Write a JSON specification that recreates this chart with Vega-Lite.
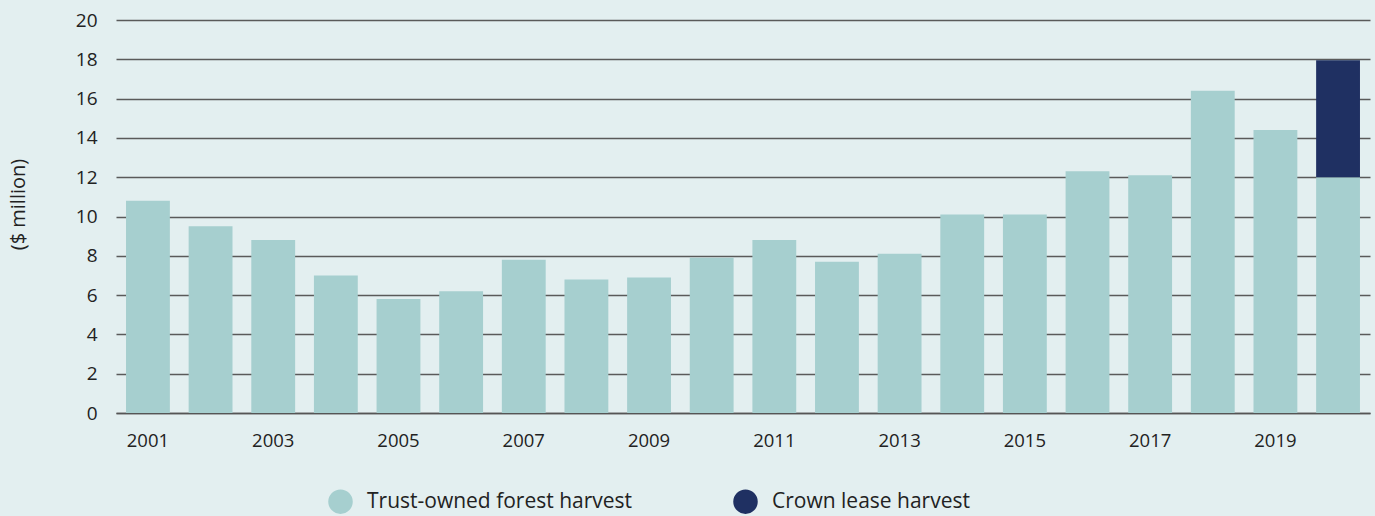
{
  "$schema": "https://vega.github.io/schema/vega-lite/v6.json",
  "width": 1254,
  "height": 393,
  "autosize": {"type": "none"},
  "padding": {"left": 116, "top": 20, "right": 5, "bottom": 103},
  "background": "#e3eff0",
  "config": {
    "view": {"stroke": null},
    "font": "Open Sans",
    "axis": {"labelColor": "#222222", "titleColor": "#222222", "labelFont": "Open Sans", "titleFont": "Open Sans"},
    "legend": {"labelFont": "Open Sans", "labelColor": "#222222"}
  },
  "data": {
    "values": [
      {"year": 2001, "series": "Trust-owned forest harvest", "value": 10.8},
      {"year": 2002, "series": "Trust-owned forest harvest", "value": 9.5},
      {"year": 2003, "series": "Trust-owned forest harvest", "value": 8.8},
      {"year": 2004, "series": "Trust-owned forest harvest", "value": 7.0},
      {"year": 2005, "series": "Trust-owned forest harvest", "value": 5.8},
      {"year": 2006, "series": "Trust-owned forest harvest", "value": 6.2},
      {"year": 2007, "series": "Trust-owned forest harvest", "value": 7.8},
      {"year": 2008, "series": "Trust-owned forest harvest", "value": 6.8},
      {"year": 2009, "series": "Trust-owned forest harvest", "value": 6.9},
      {"year": 2010, "series": "Trust-owned forest harvest", "value": 7.9},
      {"year": 2011, "series": "Trust-owned forest harvest", "value": 8.8},
      {"year": 2012, "series": "Trust-owned forest harvest", "value": 7.7},
      {"year": 2013, "series": "Trust-owned forest harvest", "value": 8.1},
      {"year": 2014, "series": "Trust-owned forest harvest", "value": 10.1},
      {"year": 2015, "series": "Trust-owned forest harvest", "value": 10.1},
      {"year": 2016, "series": "Trust-owned forest harvest", "value": 12.3},
      {"year": 2017, "series": "Trust-owned forest harvest", "value": 12.1},
      {"year": 2018, "series": "Trust-owned forest harvest", "value": 16.4},
      {"year": 2019, "series": "Trust-owned forest harvest", "value": 14.4},
      {"year": 2020, "series": "Trust-owned forest harvest", "value": 12.0},
      {"year": 2020, "series": "Crown lease harvest", "value": 5.95}
    ]
  },
  "mark": {"type": "bar"},
  "encoding": {
    "x": {
      "field": "year",
      "type": "ordinal",
      "scale": {"paddingInner": 0.3, "paddingOuter": 0.16},
      "axis": {
        "title": null,
        "values": [2001, 2003, 2005, 2007, 2009, 2011, 2013, 2015, 2017, 2019],
        "labelAngle": 0,
        "labelFontSize": 18.5,
        "labelPadding": 18,
        "ticks": false,
        "domain": true,
        "domainColor": "#555555",
        "domainWidth": 1.5
      }
    },
    "y": {
      "field": "value",
      "type": "quantitative",
      "stack": "zero",
      "scale": {"domain": [0, 20], "nice": false},
      "axis": {
        "title": "($ million)",
        "titleFontSize": 20,
        "titleFontWeight": "normal",
        "titleAngle": -90,
        "titleX": -98,
        "titleY": 184,
        "titleAlign": "center",
        "titleBaseline": "middle",
        "values": [0, 2, 4, 6, 8, 10, 12, 14, 16, 18, 20],
        "labelFontSize": 19,
        "labelPadding": 19,
        "ticks": false,
        "domain": false,
        "grid": true,
        "gridColor": "#5a5a5a",
        "gridWidth": 1.5
      }
    },
    "color": {
      "field": "series",
      "type": "nominal",
      "scale": {"domain": ["Trust-owned forest harvest", "Crown lease harvest"], "range": ["#a6cfcf", "#1f3062"]},
      "legend": {
        "title": null,
        "orient": "none",
        "legendX": 212,
        "legendY": 469,
        "direction": "horizontal",
        "symbolType": "circle",
        "symbolSize": 600,
        "symbolStrokeWidth": 0,
        "labelFontSize": 21,
        "labelOffset": 14,
        "columnPadding": 100,
        "labelLimit": 400
      }
    },
    "order": {"field": "series", "sort": "descending"}
  }
}
